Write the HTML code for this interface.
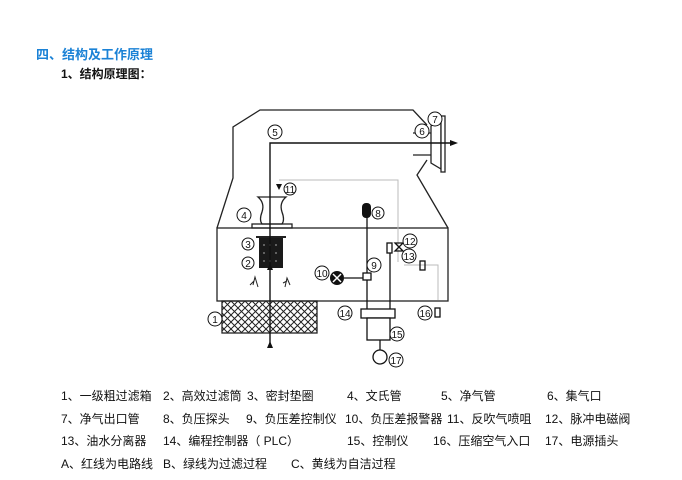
<!DOCTYPE html>
<html><head><meta charset="utf-8"><style>
body{margin:0;background:#fff;width:682px;height:480px;overflow:hidden;position:relative;font-family:"Liberation Sans","Noto Sans CJK SC",sans-serif}
.t{position:absolute;white-space:pre;font-size:12px;color:#111}
</style></head><body>
<div class="t" style="left:36px;top:44px;font-size:13px;font-weight:bold;color:#1b82d6">四、结构及工作原理</div>
<div class="t" style="left:61px;top:65px;font-size:12px;font-weight:bold">1、结构原理图：</div>
<svg width="682" height="480" style="position:absolute;left:0;top:0" font-family="Liberation Sans, sans-serif" font-size="10">
<defs><pattern id="h" width="7" height="7" patternUnits="userSpaceOnUse"><path d="M0 0L7 7M7 0L0 7" stroke="#222" stroke-width="1"/></pattern></defs>
<g fill="none" stroke="#222" stroke-width="1.3">
<path d="M217 228 L233 178 L233 127 L260 110 L413 110 L427 125 M427 160 L417 175 L448 228"/>
<rect x="217" y="228" width="231" height="73"/>
<path d="M431 126 L441 120 L441 169 L431 163 Z" fill="#fff"/>
<rect x="441" y="116" width="4" height="56" fill="#fff"/>
<path d="M413 133 L431 133 M413 155 L431 155"/>
<rect x="222" y="301" width="95" height="32" fill="url(#h)"/>
<path d="M258 197 Q265 203 262 212 Q259 220 262 224 L282 224 Q285 220 282 212 Q279 203 286 197 Z"/>
<rect x="252" y="224" width="40" height="4"/>
</g>
<path d="M279 180 L398 180 L398 262 M404 265 L438 265 L438 300" fill="none" stroke="#bbb" stroke-width="1"/>
<rect x="256" y="236" width="30" height="2" fill="#222"/>
<rect x="259" y="238" width="24" height="30" fill="#1a1a1a"/>
<g fill="#777"><circle cx="264" cy="245" r="1"/><circle cx="270" cy="245" r="1"/><circle cx="276" cy="245" r="1"/><circle cx="264" cy="253" r="1"/><circle cx="276" cy="253" r="1"/><circle cx="264" cy="261" r="1"/><circle cx="270" cy="261" r="1"/><circle cx="276" cy="261" r="1"/></g>
<path d="M270 348 L270 143 L452 143" fill="none" stroke="#111" stroke-width="1.4"/>
<path d="M458 143 L450 140 L450 146Z M270 263 L267 270 L273 270Z M270 341 L267 348 L273 348Z M276 184 L282 184 L279 190Z" fill="#111"/>
<path d="M253 285 L255 277 L258 287 M254 281 L250 285 M285 287 L287 278 L290 285 M287 281 L283 283" fill="none" stroke="#222"/>
<g stroke="#111" stroke-width="1.3" fill="none">
<path d="M367 210 L367 310 M390 250 L390 310 M344 278 L363 278 M380 340 L380 350"/>
<rect x="363" y="273" width="8" height="7" fill="#fff"/>
<rect x="387" y="243" width="5" height="10" fill="#fff"/>
<rect x="361" y="309" width="34" height="9" fill="#fff"/>
<rect x="367" y="318" width="23" height="22" fill="#fff"/>
<rect x="420" y="261" width="5" height="9"/>
<rect x="435" y="308" width="5" height="9"/>
<circle cx="380" cy="357" r="7" fill="#fff"/>
<path d="M395 243 L403 251 L395 251 L403 243 Z"/>
</g>
<rect x="362" y="203" width="9" height="15" rx="4" fill="#111"/>
<circle cx="337" cy="278" r="7" fill="#111"/>
<path d="M333 274 L341 282 M341 274 L333 282" stroke="#fff" stroke-width="1.5"/>
<g fill="#fff" stroke="#111" stroke-width="1">
<circle cx="275" cy="132" r="7"/><circle cx="290" cy="189" r="6"/><circle cx="244" cy="215" r="7"/>
<circle cx="248" cy="244" r="6"/><circle cx="248" cy="263" r="6"/><circle cx="215" cy="319" r="7"/>
<circle cx="422" cy="131" r="7"/><circle cx="435" cy="119" r="7"/><circle cx="378" cy="213" r="6"/>
<circle cx="374" cy="265" r="7"/><circle cx="322" cy="273" r="7"/><circle cx="410" cy="241" r="7"/>
<circle cx="409" cy="256" r="7"/><circle cx="345" cy="313" r="7"/><circle cx="397" cy="334" r="7"/>
<circle cx="425" cy="313" r="7"/><circle cx="396" cy="360" r="7"/>
</g>
<g fill="#111" text-anchor="middle" font-size="10">
<text x="275" y="136">5</text><text x="290" y="193">11</text><text x="244" y="219">4</text>
<text x="248" y="248">3</text><text x="248" y="267">2</text><text x="215" y="323">1</text>
<text x="422" y="135">6</text><text x="435" y="123">7</text><text x="378" y="217">8</text>
<text x="374" y="269">9</text><text x="322" y="277">10</text><text x="410" y="245">12</text>
<text x="409" y="260">13</text><text x="345" y="317">14</text><text x="397" y="338">15</text>
<text x="425" y="317">16</text><text x="396" y="364">17</text>
</g>
</svg>
<div class="t" style="left:61px;top:387px">1、一级粗过滤箱</div>
<div class="t" style="left:163px;top:387px">2、高效过滤筒</div>
<div class="t" style="left:247px;top:387px">3、密封垫圈</div>
<div class="t" style="left:347px;top:387px">4、文氏管</div>
<div class="t" style="left:441px;top:387px">5、净气管</div>
<div class="t" style="left:547px;top:387px">6、集气口</div>
<div class="t" style="left:61px;top:410px">7、净气出口管</div>
<div class="t" style="left:163px;top:410px">8、负压探头</div>
<div class="t" style="left:246px;top:410px">9、负压差控制仪</div>
<div class="t" style="left:345px;top:410px">10、负压差报警器</div>
<div class="t" style="left:447px;top:410px">11、反吹气喷咀</div>
<div class="t" style="left:545px;top:410px">12、脉冲电磁阀</div>
<div class="t" style="left:61px;top:432px">13、油水分离器</div>
<div class="t" style="left:163px;top:432px">14、编程控制器（ PLC）</div>
<div class="t" style="left:347px;top:432px">15、控制仪</div>
<div class="t" style="left:433px;top:432px">16、压缩空气入口</div>
<div class="t" style="left:545px;top:432px">17、电源插头</div>
<div class="t" style="left:61px;top:455px">A、红线为电路线</div>
<div class="t" style="left:163px;top:455px">B、绿线为过滤过程</div>
<div class="t" style="left:291px;top:455px">C、黄线为自洁过程</div>
</body></html>
